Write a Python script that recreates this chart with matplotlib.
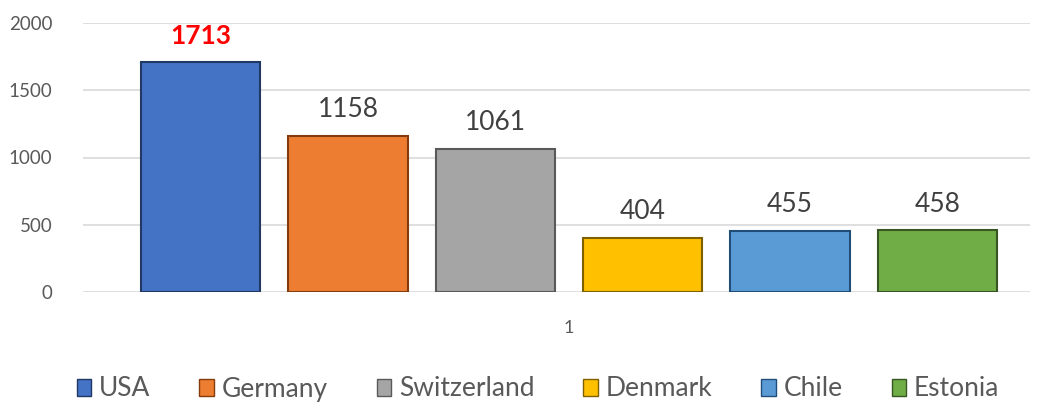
import matplotlib
matplotlib.use("Agg")
import matplotlib.pyplot as plt
from matplotlib.patches import Patch

countries = ["USA", "Germany", "Switzerland", "Denmark", "Chile", "Estonia"]
values = [1713, 1158, 1061, 404, 455, 458]
colors = ["#4472C4", "#ED7D31", "#A5A5A5", "#FFC000", "#5B9BD5", "#70AD47"]
edges = ["#1F3864", "#843C0C", "#595959", "#7F6000", "#1F4E79", "#375623"]
yticks = [0, 500, 1000, 1500, 2000]
category_label = "1"

plt.rcParams['font.family'] = ['Lato', 'DejaVu Sans']

fig = plt.figure(figsize=(10.45, 4.03), dpi=100)
ax = fig.add_axes([83/1045, 111/403, (1030-83)/1045, (292-23)/403])

x = list(range(len(countries)))
bars = ax.bar(x, values, width=0.81, color=colors, edgecolor=edges, linewidth=1.5, zorder=3)

for i, (xi, v) in enumerate(zip(x, values)):
    if i == 0:
        ax.annotate(str(v), (xi, v), xytext=(0, 10), textcoords="offset points",
                    ha="center", va="bottom", fontsize=19, fontweight="bold", color="#FF0000")
    else:
        ax.annotate(str(v), (xi, v), xytext=(0, 10), textcoords="offset points",
                    ha="center", va="bottom", fontsize=19, color="#404040")

ax.set_ylim(0, 2000)
ax.set_xlim(-0.8, 5.63)
ax.set_yticks(yticks)
ax.set_yticklabels([str(t) for t in yticks], fontsize=13.5, color="#595959")
ax.tick_params(axis="y", length=0, pad=22)
ax.set_xticks([2.5])
ax.set_xticklabels([category_label], fontsize=13, color="#595959")
ax.tick_params(axis="x", length=0, pad=20)
ax.grid(axis="y", color="#D9D9D9", linewidth=1.2, zorder=0)
for s in ax.spines.values():
    s.set_visible(False)

handles = [Patch(facecolor=c, edgecolor=e, linewidth=1) for c, e in zip(colors, edges)]
fig.legend(handles, countries, loc="center", bbox_to_anchor=(538/1045, 1 - 389/403),
           ncol=6, frameon=False, fontsize=19, handlelength=0.55, handleheight=0.6,
           handletextpad=0.3, columnspacing=1.85, labelcolor="#595959")

fig.savefig("out.png", dpi=100)
